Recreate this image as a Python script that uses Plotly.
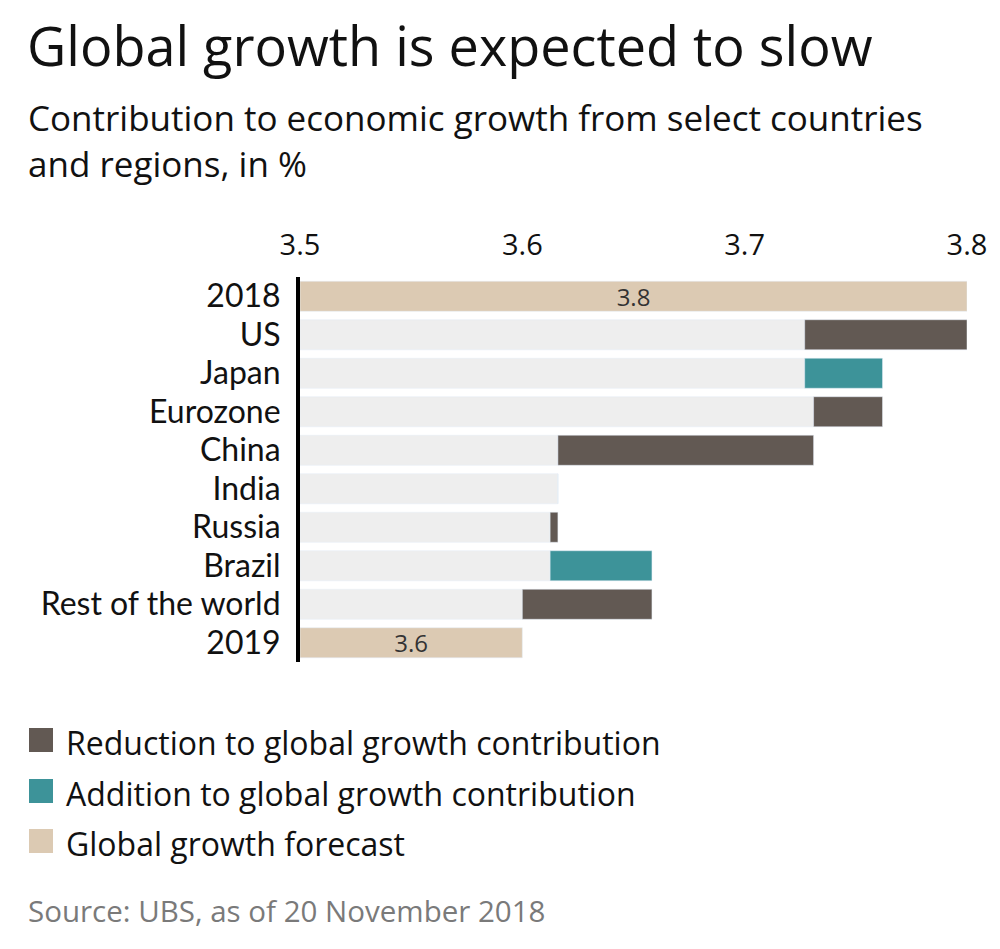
import plotly.graph_objects as go

# ---- data ----
categories = ["2018", "US", "Japan", "Eurozone", "China", "India", "Russia",
              "Brazil", "Rest of the world", "2019"]
start_value = 3.8
end_value = 3.6
changes = [-0.073, 0.035, -0.031, -0.115, 0.0, -0.0035, 0.0458, -0.0583]
axis_ticks = [3.5, 3.6, 3.7, 3.8]
axis_min = 3.5

legend_labels = ["Reduction to global growth contribution",
                 "Addition to global growth contribution",
                 "Global growth forecast"]

C_DARK = "#625953"
C_TEAL = "#3d9399"
C_TAN = "#dccab3"
C_GRAY = "#eeeeee"
FONT = "Open Sans"

# ---- derived waterfall geometry ----
levels = [start_value]
for c in changes:
    levels.append(levels[-1] + c)

mid_cats = categories[1:-1]
gray_len = []
seg_base = []
seg_len = []
seg_col = []
for i, c in enumerate(changes):
    a, b = levels[i], levels[i + 1]
    lo, hi = min(a, b), max(a, b)
    gray_len.append(lo - axis_min)
    seg_base.append(lo)
    seg_len.append(hi - lo)
    seg_col.append(C_DARK if c < 0 else C_TEAL)

fig = go.Figure()
# forecast bars (2018, 2019)
fig.add_trace(go.Bar(
    y=[categories[0], categories[-1]],
    x=[start_value - axis_min, end_value - axis_min],
    base=axis_min, orientation="h", marker_color=C_TAN,
    text=[f"{start_value:.1f}", f"{end_value:.1f}"],
    textposition="inside", insidetextanchor="middle", constraintext="none",
    textfont=dict(size=24, color="#333333", family=FONT),
    hoverinfo="skip", showlegend=False))
# gray background bars
fig.add_trace(go.Bar(
    y=mid_cats, x=gray_len, base=axis_min, orientation="h",
    marker_color=C_GRAY, hoverinfo="skip", showlegend=False))
# contribution segments
fig.add_trace(go.Bar(
    y=mid_cats, x=seg_len, base=seg_base, orientation="h",
    marker=dict(color=seg_col), hoverinfo="skip", showlegend=False))

W, H = 1000, 949
L, R, T, B = 300, 33, 277, 287

def pp(px, py):
    return (px - L) / (W - L - R), (H - B - py) / (H - T - B)

annotations = []
shapes = []

def add_text(px, py, text, size, color="#111111", xanchor="left", yanchor="middle"):
    x, y = pp(px, py)
    annotations.append(dict(x=x, y=y, xref="paper", yref="paper", text=text,
                            showarrow=False, xanchor=xanchor, yanchor=yanchor,
                            align="left",
                            font=dict(family=FONT, size=size, color=color)))

add_text(25, 45, "Global growth is expected to slow", 54)
add_text(26, 140, "Contribution to economic growth from select countries<br>and regions, in %", 35)

leg_cols = [C_DARK, C_TEAL, C_TAN]
leg_y = [740, 791, 841]
for lab, col, yy in zip(legend_labels, leg_cols, leg_y):
    x0, y0 = pp(29, yy - 12)
    x1, y1 = pp(53, yy + 12)
    shapes.append(dict(type="rect", xref="paper", yref="paper",
                       x0=x0, x1=x1, y0=y0, y1=y1,
                       fillcolor=col, line=dict(width=0)))
    add_text(64, yy + 2, lab, 32)

add_text(26, 910, "Source: UBS, as of 20 November 2018", 29.5, color="#7a7a7a")

fig.update_layout(
    width=W, height=H,
    margin=dict(l=L, r=R, t=T, b=B),
    paper_bgcolor="white", plot_bgcolor="white",
    barmode="overlay", bargap=0.22,
    showlegend=False,
    font=dict(family=FONT, color="#111111"),
    annotations=annotations, shapes=shapes,
    xaxis=dict(range=[axis_min, 3.8], side="top", tickvals=axis_ticks,
               ticktext=[f"{v:.1f}" for v in axis_ticks],
               showgrid=False, zeroline=False, showline=False, ticks="",
               tickfont=dict(size=29, color="#111111"), ticklabelstandoff=15,
               fixedrange=True),
    yaxis=dict(categoryorder="array", categoryarray=categories[::-1],
               showgrid=False, zeroline=False, showline=True,
               linecolor="black", linewidth=4, ticks="",
               tickfont=dict(size=32, color="#111111", family="Lato"),
               ticklabelstandoff=9, fixedrange=True),
)

fig.write_html("out.html")
